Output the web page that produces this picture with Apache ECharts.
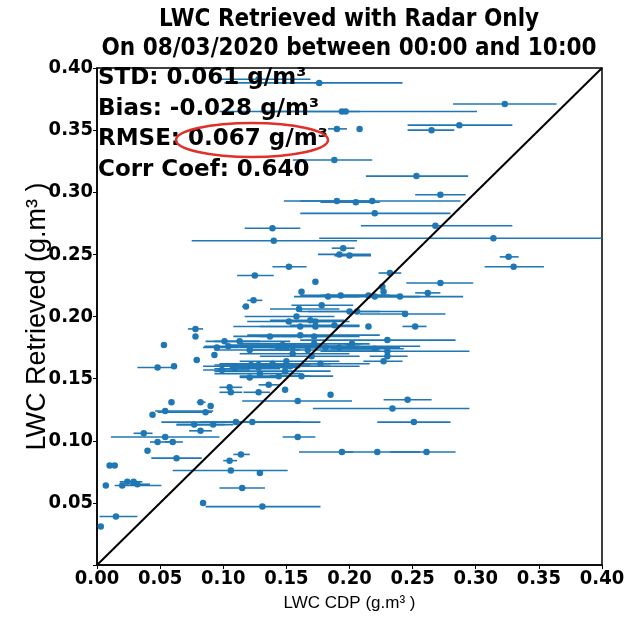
<!DOCTYPE html>
<html><head><meta charset="utf-8">
<script src="https://cdn.jsdelivr.net/npm/echarts@6/dist/echarts.min.js"></script>
<style>html,body{margin:0;padding:0;background:#fff}#c{width:630px;height:617px}</style>
</head><body><div id="c"></div>
<script>
// LWC from CDP (x), retrieved LWC (y), and CDP range (x error bar low / high), g.m^-3
const cdp = [0.128,0.176,0.194,0.197,0.323,0.287,0.265,0.190,0.208,0.188,0.253,0.272,0.190,0.205,0.218,0.220,0.139,0.268,0.140,0.314,0.195,0.192,0.200,0.326,0.330,0.232,0.152,0.125,0.173,0.272,0.226,0.162,0.227,0.262,0.183,0.193,0.215,0.220,0.240,0.178,0.160,0.206,0.244,0.200,0.158,0.152,0.169,0.173,0.161,0.173,0.188,0.215,0.252,0.078,0.078,0.053,0.137,0.161,0.172,0.101,0.104,0.113,0.095,0.093,0.121,0.143,0.145,0.150,0.155,0.147,0.167,0.155,0.181,0.192,0.200,0.230,0.202,0.220,0.230,0.230,0.227,0.177,0.150,0.149,0.153,0.149,0.162,0.048,0.061,0.079,0.109,0.109,0.099,0.122,0.128,0.128,0.139,0.121,0.129,0.144,0.136,0.149,0.105,0.106,0.128,0.185,0.159,0.246,0.059,0.082,0.090,0.054,0.086,0.044,0.234,0.110,0.123,0.077,0.092,0.251,0.082,0.037,0.054,0.159,0.048,0.060,0.040,0.114,0.105,0.063,0.194,0.222,0.261,0.106,0.129,0.010,0.014,0.007,0.020,0.024,0.029,0.032,0.115,0.084,0.131,0.015,0.003,0.124,0.118,0.170,0.172];
const retrieved = [0.391,0.388,0.365,0.365,0.371,0.354,0.350,0.351,0.351,0.326,0.313,0.298,0.293,0.292,0.293,0.283,0.271,0.273,0.261,0.263,0.255,0.250,0.249,0.248,0.240,0.235,0.240,0.233,0.228,0.227,0.224,0.220,0.220,0.219,0.216,0.217,0.217,0.216,0.216,0.209,0.206,0.204,0.202,0.204,0.200,0.196,0.197,0.196,0.192,0.192,0.193,0.192,0.192,0.190,0.184,0.177,0.184,0.185,0.184,0.180,0.176,0.180,0.175,0.169,0.173,0.176,0.175,0.175,0.176,0.177,0.173,0.170,0.175,0.175,0.176,0.181,0.178,0.174,0.172,0.168,0.164,0.162,0.164,0.160,0.160,0.156,0.152,0.159,0.160,0.165,0.160,0.158,0.157,0.161,0.161,0.159,0.162,0.151,0.154,0.152,0.145,0.141,0.143,0.139,0.139,0.137,0.132,0.133,0.131,0.131,0.128,0.124,0.123,0.121,0.126,0.115,0.115,0.113,0.113,0.115,0.108,0.106,0.103,0.103,0.099,0.099,0.092,0.089,0.084,0.086,0.091,0.091,0.091,0.076,0.074,0.080,0.080,0.064,0.064,0.067,0.067,0.065,0.062,0.050,0.047,0.039,0.031,0.213,0.208,0.168,0.178];
const cdpLow = [0.097,0.101,0.097,0.129,0.282,0.246,0.246,0.183,0.208,0.155,0.213,0.252,0.148,0.177,0.161,0.161,0.117,0.209,0.075,0.176,0.186,0.175,0.188,0.319,0.307,0.223,0.139,0.111,0.173,0.245,0.226,0.162,0.227,0.252,0.156,0.161,0.177,0.185,0.216,0.154,0.137,0.167,0.208,0.161,0.117,0.119,0.137,0.149,0.108,0.129,0.153,0.215,0.242,0.072,0.078,0.053,0.108,0.119,0.129,0.086,0.085,0.093,0.084,0.093,0.093,0.108,0.113,0.121,0.117,0.105,0.121,0.113,0.137,0.145,0.161,0.161,0.195,0.185,0.177,0.216,0.211,0.137,0.113,0.105,0.121,0.093,0.137,0.032,0.061,0.079,0.084,0.093,0.084,0.093,0.097,0.105,0.097,0.113,0.093,0.113,0.128,0.149,0.097,0.097,0.116,0.185,0.115,0.227,0.059,0.079,0.090,0.046,0.048,0.044,0.171,0.051,0.082,0.063,0.063,0.222,0.073,0.029,0.011,0.147,0.042,0.054,0.040,0.108,0.100,0.043,0.160,0.192,0.232,0.060,0.127,0.010,0.014,0.007,0.014,0.018,0.022,0.026,0.097,0.084,0.086,0.002,0.003,0.119,0.115,0.129,0.113];
const cdpHigh = [0.169,0.242,0.301,0.208,0.364,0.329,0.283,0.198,0.208,0.218,0.294,0.292,0.218,0.224,0.288,0.280,0.161,0.329,0.206,0.400,0.204,0.217,0.217,0.334,0.354,0.241,0.166,0.140,0.173,0.298,0.226,0.162,0.227,0.272,0.208,0.232,0.240,0.290,0.256,0.203,0.192,0.246,0.276,0.224,0.188,0.185,0.196,0.200,0.192,0.208,0.208,0.215,0.261,0.084,0.078,0.053,0.185,0.224,0.208,0.129,0.161,0.153,0.113,0.093,0.161,0.192,0.185,0.200,0.208,0.177,0.224,0.200,0.232,0.240,0.256,0.284,0.210,0.243,0.295,0.246,0.242,0.216,0.192,0.185,0.208,0.185,0.187,0.062,0.061,0.079,0.145,0.145,0.121,0.161,0.169,0.161,0.185,0.145,0.161,0.169,0.144,0.149,0.115,0.115,0.137,0.185,0.202,0.265,0.059,0.086,0.090,0.092,0.091,0.044,0.295,0.177,0.161,0.101,0.108,0.280,0.091,0.044,0.097,0.173,0.060,0.068,0.040,0.121,0.111,0.083,0.203,0.256,0.284,0.151,0.131,0.010,0.014,0.007,0.051,0.034,0.036,0.042,0.133,0.084,0.177,0.032,0.003,0.131,0.120,0.208,0.216];
const axisTicks = [0, 0.05, 0.10, 0.15, 0.20, 0.25, 0.30, 0.35, 0.40];
const oneToOne = [[0, 0], [0.4, 0.4]];
const titleLines = ['LWC Retrieved with Radar Only', 'On 08/03/2020 between 00:00 and 10:00'];
const statLines = ['STD: 0.061 g/m³', 'Bias: -0.028 g/m³', 'RMSE: 0.067 g/m³', 'Corr Coef: 0.640'];
const xName = 'LWC CDP (g.m³ )';
const yName = 'LWC Retrieved (g.m³ )';

const rows = cdp.map((x, i) => [x, retrieved[i], cdpLow[i], cdpHigh[i]]);
const blue = '#1f77b4';
const tickFont = { fontFamily: '"DejaVu Sans Condensed", "DejaVu Sans", sans-serif', fontWeight: 'bold', fontSize: 20, color: '#000' };

const chart = echarts.init(document.getElementById('c'), null, { renderer: 'canvas' });
const graphics = [];
titleLines.forEach((t, i) => graphics.push({
  type: 'text', z: 100, position: [349, 8 + i * 29],
  style: { text: t, x: 0, y: 0, textAlign: 'center', fill: '#000', font: 'bold 24px "DejaVu Sans Condensed", "DejaVu Sans", sans-serif' }
}));
statLines.forEach((t, i) => graphics.push({
  type: 'text', z: 100, position: [98, 67 + i * 30.5],
  style: { text: t, fill: '#000', font: 'bold 23px "DejaVu Sans", sans-serif' }
}));
graphics.push({
  type: 'ellipse', z: 101, shape: { cx: 252, cy: 140, rx: 76, ry: 17 },
  style: { fill: 'none', stroke: '#e0302a', lineWidth: 2.5 }
});

chart.setOption({
  animation: false,
  backgroundColor: '#fff',
  grid: { left: 97, right: 28, top: 68, bottom: 50, show: true, borderColor: '#000', borderWidth: 1.5, backgroundColor: 'transparent' },
  xAxis: {
    type: 'value', min: axisTicks[0], max: axisTicks[axisTicks.length - 1], interval: 0.05,
    name: xName, nameLocation: 'middle', nameGap: 30, nameMoveOverlap: false,
    nameTextStyle: { fontFamily: '"Liberation Sans", Arial, sans-serif', fontSize: 17, color: '#000' },
    axisLine: { show: true, onZero: false, lineStyle: { color: '#000', width: 1.5 } },
    axisTick: { show: true, length: 4, lineStyle: { color: '#000' } },
    splitLine: { show: false },
    axisLabel: Object.assign({ margin: 4, formatter: v => v.toFixed(2) }, tickFont)
  },
  yAxis: {
    type: 'value', min: axisTicks[0], max: axisTicks[axisTicks.length - 1], interval: 0.05,
    name: yName, nameLocation: 'middle', nameGap: 46, nameRotate: 90, nameMoveOverlap: false,
    nameTextStyle: { fontFamily: '"Liberation Sans", Arial, sans-serif', fontSize: 27, color: '#000' },
    axisLine: { show: true, onZero: false, lineStyle: { color: '#000', width: 1.5 } },
    axisTick: { show: true, length: 4, lineStyle: { color: '#000' } },
    splitLine: { show: false },
    axisLabel: Object.assign({ margin: 4, formatter: v => (v === 0 ? '' : v.toFixed(2)) }, tickFont)
  },
  graphic: graphics,
  series: [
    {
      type: 'custom', data: rows, encode: { x: [0, 2, 3], y: 1 }, z: 2,
      renderItem: (params, api) => {
        const y = api.value(1);
        const p1 = api.coord([api.value(2), y]);
        const p2 = api.coord([api.value(3), y]);
        return { type: 'line', shape: { x1: p1[0], y1: p1[1], x2: p2[0], y2: p2[1] }, style: { stroke: blue, lineWidth: 1.6 } };
      }
    },
    {
      type: 'scatter', data: rows.map(r => [r[0], r[1]]), symbolSize: 6.5, z: 3,
      itemStyle: { color: blue, opacity: 1 }
    },
    {
      type: 'line', data: oneToOne, symbol: 'none', z: 4,
      lineStyle: { color: '#000', width: 2 }
    }
  ]
});
</script></body></html>
